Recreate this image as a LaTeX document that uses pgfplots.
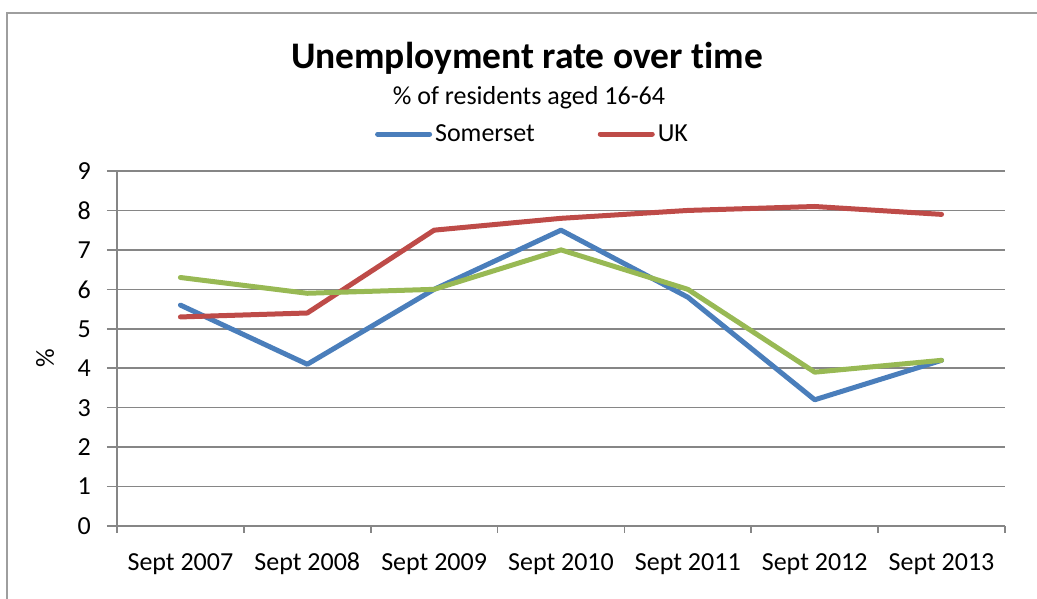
\documentclass[border=0pt]{standalone}
\usepackage{fontspec}
\setmainfont{Carlito}[Ligatures=NoCommon]
\usepackage{pgfplots}
\pgfplotsset{compat=1.18}
\definecolor{cBlue}{HTML}{4A7EBB}
\definecolor{cRed}{HTML}{BE4B48}
\definecolor{cGreen}{HTML}{98B954}
\definecolor{cGrid}{HTML}{868686}
\begin{document}
\begin{tikzpicture}[x=1pt,y=1pt]
\useasboundingbox (0,0) rectangle (1037,599);
\draw[color=cGrid!80, line width=2pt] (7,-20) -- (7,586) -- (1060,586);
\node[anchor=base, font=\bfseries\fontsize{37.5}{44}\selectfont, inner sep=0pt] at (527,530) {Unemployment rate over time};
\node[anchor=base, font=\fontsize{26}{30}\selectfont, inner sep=0pt] at (529,494) {\% of residents aged 16-64};
\node[rotate=90, font=\fontsize{26}{30}\selectfont, inner sep=0pt] at (45,241) {\%};
\begin{axis}[
  at={(117pt,73pt)}, anchor=south west, scale only axis,
  width=888pt, height=355pt,
  xmin=-0.5, xmax=6.5, ymin=0, ymax=9,
  axis x line*=bottom, axis y line*=left,
  axis line style={cGrid, line width=1.6pt, -},
  xtick={0,...,6},
  xticklabels={Sept 2007,Sept 2008,Sept 2009,Sept 2010,Sept 2011,Sept 2012,Sept 2013},
  minor xtick={-0.5,0.5,1.5,2.5,3.5,4.5,5.5,6.5},
  major x tick style={draw=none},
  minor x tick style={cGrid, line width=1.6pt},
  minor tick length=7pt,
  ytick={0,...,9},
  major y tick style={cGrid, line width=1.6pt},
  major tick length=10pt,
  tick align=outside,
  ymajorgrids,
  major grid style={cGrid, line width=1.6pt},
  tick label style={font=\fontsize{26}{30}\selectfont},
  /pgf/number format/assume math mode=true,
  x tick label style={anchor=base, yshift=-35pt, inner sep=0pt},
  xticklabel shift=0pt,
  y tick label style={anchor=east, inner sep=0pt},
  yticklabel shift=16pt,
  clip=false,
  legend columns=2,
  legend style={at={(axis description cs:0.4685,1.104)}, anchor=center, draw=none, fill=none,
    font=\fontsize{26}{30}\selectfont, inner sep=0pt,
    /tikz/every even column/.append style={column sep=60pt},
    nodes={inner sep=3pt}},
  legend image code/.code={\draw[#1, line width=5pt, line cap=round] (0pt,0pt) -- (52pt,0pt);},
  every axis plot/.append style={line width=5pt, line join=round, line cap=round},
]
\addplot[cBlue] coordinates {(0,5.6) (1,4.1) (2,6.0) (3,7.5) (4,5.8) (5,3.2) (6,4.2)};
\addlegendentry{Somerset}
\addplot[cRed] coordinates {(0,5.3) (1,5.4) (2,7.5) (3,7.8) (4,8.0) (5,8.1) (6,7.9)};
\addlegendentry{UK}
\addplot[cGreen, forget plot] coordinates {(0,6.3) (1,5.9) (2,6.0) (3,7.0) (4,6.0) (5,3.9) (6,4.2)};
\end{axis}
\end{tikzpicture}
\end{document}
